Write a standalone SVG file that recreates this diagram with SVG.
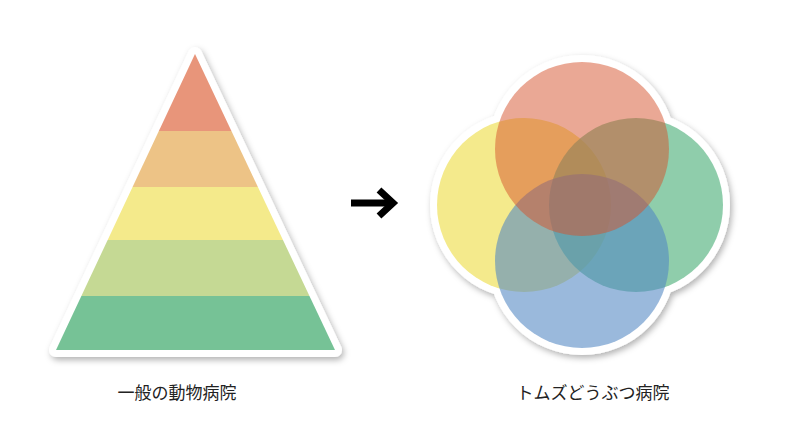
<svg xmlns="http://www.w3.org/2000/svg" width="800" height="440" viewBox="0 0 800 440">
<defs>
<filter id="sh" x="-20%" y="-20%" width="140%" height="140%">
<feDropShadow dx="2" dy="3" stdDeviation="3" flood-color="#000" flood-opacity="0.3"/>
</filter>
<clipPath id="tri"><polygon points="195,54 56,350 335,350"/></clipPath>
</defs>
<style>
.lbl{font-family:"Noto Sans CJK JP","Noto Sans",sans-serif;font-size:17px;fill:#222;text-anchor:middle}
</style>
<rect width="800" height="440" fill="#fff"/>
<g id="pyramid">
<polygon points="195,54 56,350 335,350" fill="#fff" stroke="#fff" stroke-width="14" stroke-linejoin="round" filter="url(#sh)"/>
<g clip-path="url(#tri)">
<rect x="40" y="40" width="310" height="91" fill="#e8957a"/>
<rect x="40" y="131" width="310" height="56" fill="#edc386"/>
<rect x="40" y="187" width="310" height="53" fill="#f4ea8b"/>
<rect x="40" y="240" width="310" height="56" fill="#c5d994"/>
<rect x="40" y="296" width="310" height="60" fill="#76c296"/>
</g>
</g>
<g id="arrow" fill="none" stroke="#000" stroke-width="7">
<line x1="351" y1="203" x2="392" y2="203"/>
<polyline points="379,190 393,203 379,216" stroke-linejoin="miter"/>
</g>
<g id="venn">
<g fill="#fff" filter="url(#sh)">
<circle cx="582" cy="149" r="94"/>
<circle cx="582" cy="261" r="94"/>
<circle cx="524" cy="205" r="94"/>
<circle cx="636" cy="205" r="94"/>
</g>
<circle cx="524" cy="205" r="87" fill="#f4ea8c"/>
<circle cx="636" cy="205" r="87" fill="#5fb887" fill-opacity="0.7"/>
<circle cx="582" cy="261" r="87" fill="#5186c3" fill-opacity="0.58"/>
<circle cx="582" cy="149" r="87" fill="#d5512b" fill-opacity="0.5"/>
</g>
<g id="labels">
<text class="lbl" x="177" y="399">一般の動物病院</text>
<text class="lbl" x="593" y="399">トムズどうぶつ病院</text>
</g>
</svg>
